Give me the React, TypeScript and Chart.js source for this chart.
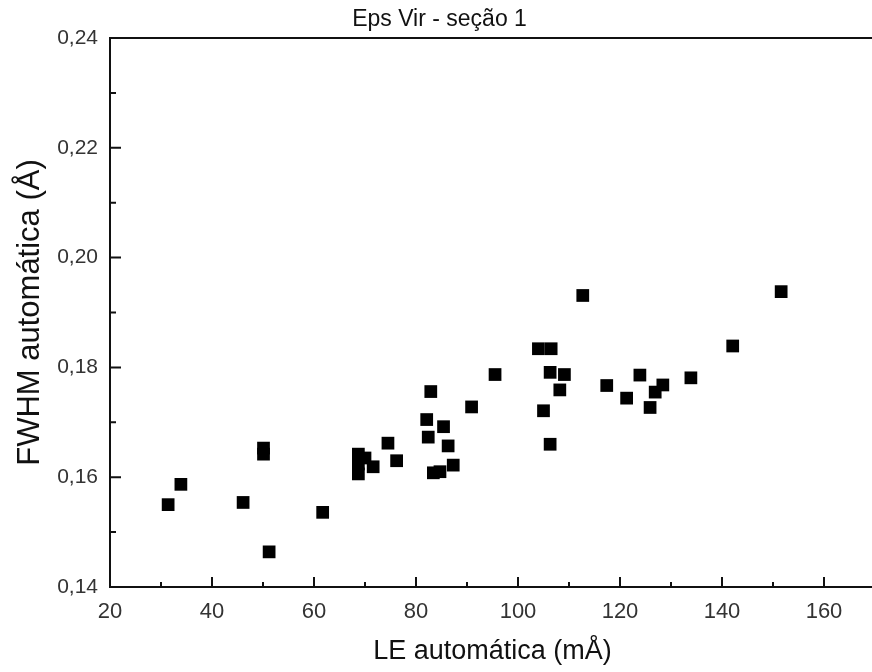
import React, { useEffect, useRef } from "react";
import { Chart, registerables } from "chart.js";

Chart.register(...registerables);

const titleText = "Eps Vir - seção 1";
const xTitle = "LE automática (mÅ)";
const yTitle = "FWHM automática (Å)";

const leValues = [
  31.4, 33.9, 46.1, 50.1, 50.1, 51.2, 61.7, 68.7, 68.7, 68.7, 70.0, 71.6, 74.5, 76.2,
  82.1, 82.4, 82.9, 83.4, 84.7, 85.4, 86.3, 87.3, 90.9, 95.5, 104.0, 106.5, 105.0,
  106.3, 106.3, 108.2, 109.1, 112.7, 117.4, 121.3, 123.9, 125.9, 126.9, 128.4, 133.9,
  142.1, 151.6,
];
const fwhmValues = [
  0.155, 0.1587, 0.1554, 0.1653, 0.1642, 0.1464, 0.1536, 0.1642, 0.1624, 0.1606, 0.1635,
  0.1619, 0.1662, 0.163, 0.1705, 0.1673, 0.1756, 0.1608, 0.161, 0.1692, 0.1657, 0.1622,
  0.1728, 0.1787, 0.1834, 0.1834, 0.1721, 0.1791, 0.166, 0.1759, 0.1787, 0.1931, 0.1767,
  0.1744, 0.1786, 0.1727, 0.1755, 0.1768, 0.1781, 0.1839, 0.1938,
];

const xTickValues = [20, 40, 60, 80, 100, 120, 140, 160];
const xMinorValues = [30, 50, 70, 90, 110, 130, 150];
const yTickValues = [0.14, 0.16, 0.18, 0.2, 0.22, 0.24];
const yMinorValues = [0.15, 0.17, 0.19, 0.21, 0.23];

const FONT = "'Liberation Sans', Arial, Helvetica, sans-serif";

const frameTicks = {
  id: "frameTicks",
  afterDraw(chart: any) {
    const { ctx, chartArea: a, scales } = chart;
    const x = scales.x;
    const y = scales.y;
    ctx.save();
    ctx.strokeStyle = "#111";
    ctx.lineWidth = 2;
    ctx.strokeRect(a.left, a.top, a.right - a.left, a.bottom - a.top);
    ctx.beginPath();
    const line = (x1: number, y1: number, x2: number, y2: number) => {
      ctx.moveTo(x1, y1);
      ctx.lineTo(x2, y2);
    };
    xTickValues.forEach((v) => {
      const px = x.getPixelForValue(v);
      if (px > a.left + 1) line(px, a.bottom, px, a.bottom - 10);
    });
    xMinorValues.forEach((v) => {
      const px = x.getPixelForValue(v);
      line(px, a.bottom, px, a.bottom - 5);
    });
    yTickValues.forEach((v) => {
      const py = y.getPixelForValue(v);
      if (py < a.bottom - 1 && py > a.top + 1) line(a.left, py, a.left + 11, py);
    });
    yMinorValues.forEach((v) => {
      const py = y.getPixelForValue(v);
      line(a.left, py, a.left + 6, py);
    });
    ctx.stroke();
    ctx.restore();
  },
};

export default function App() {
  const ref = useRef<HTMLCanvasElement | null>(null);

  useEffect(() => {
    document.documentElement.style.overflow = "hidden";
    document.body.style.overflow = "hidden";
    const canvas = ref.current;
    if (!canvas) return;
    const chart = new Chart(canvas, {
      type: "scatter",
      data: {
        datasets: [
          {
            data: leValues.map((v, i) => ({ x: v, y: fwhmValues[i] })),
            pointStyle: "rect",
            pointRadius: 9,
            pointHoverRadius: 9,
            backgroundColor: "#000",
            borderColor: "#000",
            borderWidth: 0,
          },
        ],
      },
      options: {
        responsive: false,
        animation: false,
        events: [],
        layout: { padding: { left: 0, right: 5, top: 0, bottom: 0 } },
        plugins: {
          legend: { display: false },
          tooltip: { enabled: false },
          title: {
            display: true,
            text: titleText,
            color: "#111",
            font: { family: FONT, size: 23, weight: "normal" },
            padding: { top: 6, bottom: 4.4 },
          },
        },
        scales: {
          x: {
            type: "linear",
            min: 20,
            max: 170,
            afterBuildTicks: (s: any) => {
              s.ticks = xTickValues.map((v) => ({ value: v }));
            },
            afterFit: (s: any) => {
              s.height = 85;
            },
            grid: { display: false, drawTicks: false },
            border: { display: false },
            ticks: {
              color: "#333",
              padding: 12,
              maxRotation: 0,
              autoSkip: false,
              font: { family: FONT, size: 22 },
              callback: (v: any) => String(v),
            },
            title: {
              display: true,
              text: xTitle,
              color: "#111",
              font: { family: FONT, size: 27 },
              padding: { top: 0, bottom: 4 },
            },
          },
          y: {
            type: "linear",
            min: 0.14,
            max: 0.24,
            afterBuildTicks: (s: any) => {
              s.ticks = yTickValues.map((v) => ({ value: v }));
            },
            afterFit: (s: any) => {
              s.width = 110;
            },
            grid: { display: false, drawTicks: false },
            border: { display: false },
            ticks: {
              color: "#333",
              padding: 12,
              autoSkip: false,
              font: { family: FONT, size: 21 },
              callback: (v: any) => Number(v).toFixed(2).replace(".", ","),
            },
            title: {
              display: true,
              text: yTitle,
              color: "#111",
              font: { family: FONT, size: 31 },
              padding: { top: 12, bottom: 0 },
            },
          },
        },
      },
      plugins: [frameTicks],
    });
    return () => chart.destroy();
  }, []);

  return (
    <div style={{ position: "fixed", left: 0, top: 0, width: 884, height: 672, background: "#fff" }}>
      <canvas ref={ref} width={884} height={672} style={{ display: "block", width: "884px", height: "672px" }} />
    </div>
  );
}
